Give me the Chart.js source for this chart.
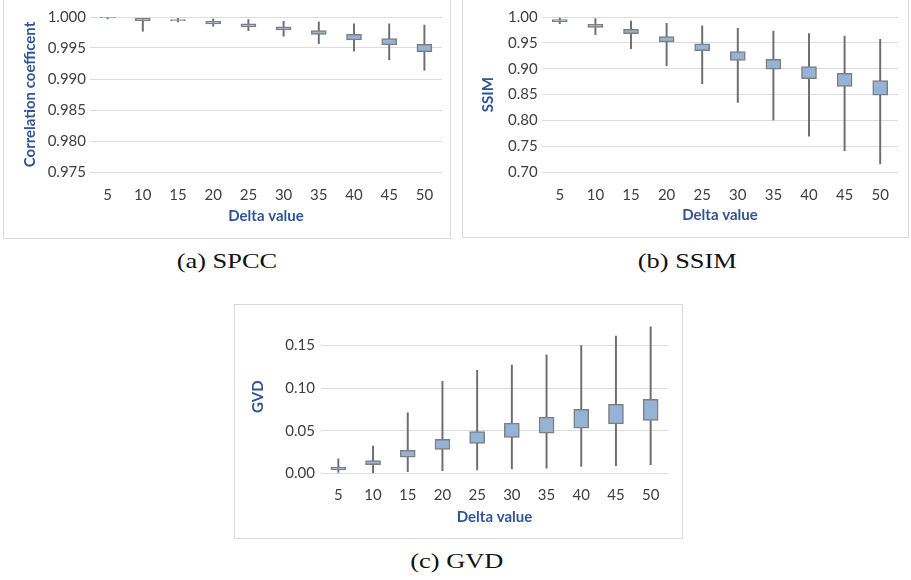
<!DOCTYPE html>
<html>
<head>
<meta charset="utf-8">
<script src="https://cdn.jsdelivr.net/npm/chart.js@4.4.1/dist/chart.umd.min.js"></script>
<style>
  html, body { margin:0; padding:0; background:#fff; }
  body { width:911px; height:580px; position:relative; overflow:hidden; }
  .panel { position:absolute; border:1px solid #d9d9d9; box-sizing:border-box; }
  .panel canvas { position:absolute; left:0; top:0; }
  .cap { position:absolute; width:300px; text-align:center; font-family:"Liberation Serif", serif; font-size:22px; line-height:22px; color:#111; }
  .cap span { display:inline-block; transform:scaleX(1.2); transform-origin:center; }
</style>
</head>
<body>
<div class="panel" id="pa" style="left:3px; top:-1px; width:448px; height:240px;"><canvas id="ca" width="446" height="238"></canvas></div>
<div class="panel" id="pb" style="left:462px; top:-1px; width:447px; height:239px;"><canvas id="cb" width="445" height="237"></canvas></div>
<div class="panel" id="pc" style="left:234px; top:304px; width:449px; height:235px;"><canvas id="cc" width="447" height="233"></canvas></div>
<div class="cap" style="left:77px; top:250px;"><span>(a) SPCC</span></div>
<div class="cap" style="left:537px; top:250px;"><span>(b) SSIM</span></div>
<div class="cap" style="left:307px; top:550px;"><span>(c) GVD</span></div>
<script>
// ---- data ----
const categories = ['5','10','15','20','25','30','35','40','45','50'];

const spccMin = [0.9997, 0.9977, 0.9992, 0.9985, 0.9978, 0.9969, 0.9957, 0.9945, 0.9931, 0.9914];
const spccQ1  = [0.9999, 0.9994, 0.9994, 0.9989, 0.9984, 0.9979, 0.9972, 0.9963, 0.9955, 0.9944];
const spccQ3  = [1.0000, 0.9998, 0.9996, 0.9993, 0.9989, 0.9984, 0.9978, 0.9972, 0.9965, 0.9956];
const spccMax = [1.0000, 0.9998, 0.9998, 0.9997, 0.9996, 0.9993, 0.9992, 0.9989, 0.9989, 0.9987];

const ssimMin = [0.987, 0.966, 0.939, 0.906, 0.871, 0.835, 0.801, 0.770, 0.742, 0.716];
const ssimQ1  = [0.991, 0.980, 0.968, 0.952, 0.935, 0.916, 0.899, 0.881, 0.866, 0.849];
const ssimQ3  = [0.995, 0.986, 0.976, 0.962, 0.948, 0.933, 0.918, 0.904, 0.891, 0.877];
const ssimMax = [0.998, 0.997, 0.992, 0.988, 0.983, 0.978, 0.973, 0.968, 0.963, 0.957];

const gvdMin = [0.001, 0.000, 0.002, 0.003, 0.004, 0.005, 0.006, 0.008, 0.009, 0.010];
const gvdQ1  = [0.004, 0.010, 0.019, 0.028, 0.035, 0.042, 0.047, 0.053, 0.058, 0.062];
const gvdQ3  = [0.007, 0.015, 0.027, 0.040, 0.049, 0.059, 0.066, 0.075, 0.081, 0.087];
const gvdMax = [0.017, 0.032, 0.071, 0.108, 0.121, 0.127, 0.139, 0.150, 0.161, 0.172];

const spccTicks = { min:0.975, max:1.0, step:0.005, digits:3 };
const ssimTicks = { min:0.70, max:1.0, step:0.05, digits:2 };
const gvdTicks  = { min:0.0, max:0.18, step:0.05, digits:2 };

// ---- styling ----
const TICK_FONT = { family:'Lato', size:15 };
const TITLE_FONT = { family:'Lato', size:15, weight:'bold' };
const TICK_COLOR = '#404040';
const TITLE_COLOR = '#2f5597';
const GRID_COLOR = '#dcdcdc';
const BOX_FILL = '#95b3d7';
const BOX_EDGE = '#7f7f7f';
const WHISKER = '#6e6e6e';

function makeChart(id, mins, q1s, q3s, maxs, tk, yTitle, L) {
  const boxes = categories.map((_, i) => [q1s[i], q3s[i]]);
  const whiskers = categories.map((_, i) => [mins[i], maxs[i]]);
  new Chart(document.getElementById(id), {
    type: 'bar',
    data: {
      labels: categories,
      datasets: [
        { data: boxes, backgroundColor: BOX_FILL, borderColor: BOX_EDGE, borderWidth: 1.5,
          borderSkipped: false, barThickness: 15, grouped: false, order: 0 },
        { data: whiskers, backgroundColor: WHISKER, borderWidth: 0,
          barThickness: 1.3, grouped: false, order: 1 }
      ]
    },
    options: {
      responsive: false,
      animation: false,
      devicePixelRatio: 1,
      layout: { padding: { left: 0, top: L.pt, right: L.pr, bottom: L.pb } },
      plugins: { legend: { display: false }, tooltip: { enabled: false } },
      scales: {
        x: {
          offset: true,
          grid: { display: false },
          border: { display: false },
          ticks: { font: TICK_FONT, color: TICK_COLOR, padding: L.xtp, maxRotation: 0, minRotation: 0 },
          title: { display: true, text: 'Delta value', font: TITLE_FONT, color: TITLE_COLOR,
                   padding: { top: 0, bottom: L.xtitle } },
          afterFit: s => { s.height = L.xh; }
        },
        y: {
          min: tk.min, max: tk.max,
          grid: { color: GRID_COLOR, lineWidth: 1, drawTicks: false },
          border: { display: false },
          ticks: { stepSize: tk.step, includeBounds: false, font: TICK_FONT, color: TICK_COLOR,
                   padding: L.ytp, callback: v => Number(v).toFixed(tk.digits) },
          title: { display: true, text: yTitle, font: TITLE_FONT, color: TITLE_COLOR,
                   padding: { top: L.ytitle, bottom: 0 } },
          afterFit: s => { s.width = L.yw; }
        }
      }
    }
  });
}

makeChart('ca', spccMin, spccQ1, spccQ3, spccMax, spccTicks, 'Correlation coefficent',
  { pt: 17, pr: 8, pb: 10, xh: 56, yw: 86, xtp: 6, ytp: 4, xtitle: 3, ytitle: 17 });
makeChart('cb', ssimMin, ssimQ1, ssimQ3, ssimMax, ssimTicks, 'SSIM',
  { pt: 17, pr: 10, pb: 9.7, xh: 55, yw: 79, xtp: 6, ytp: 4.3, xtitle: 3.3, ytitle: 16 });
makeChart('cc', gvdMin, gvdQ1, gvdQ3, gvdMax, gvdTicks, 'GVD',
  { pt: 14, pr: 14, pb: 9.7, xh: 55, yw: 86, xtp: 5, ytp: 6, xtitle: 2, ytitle: 14 });
</script>
</body>
</html>
